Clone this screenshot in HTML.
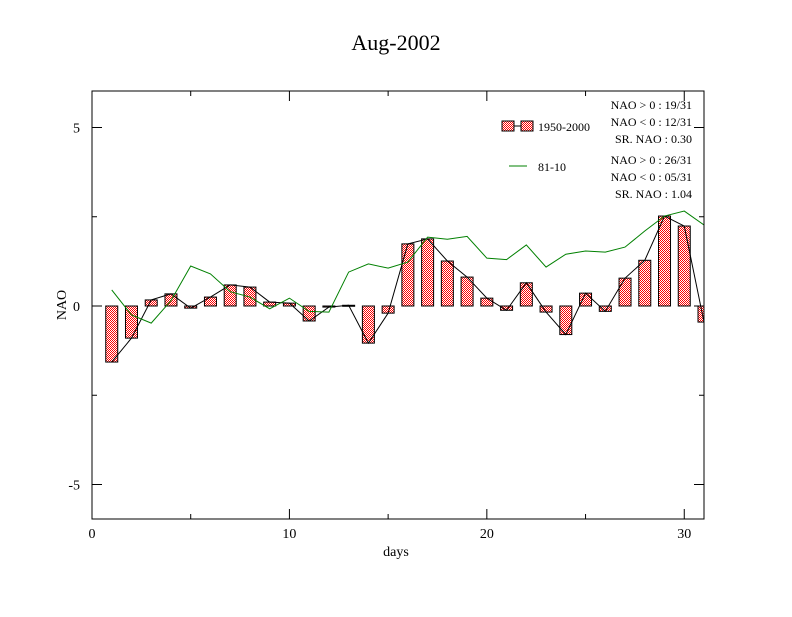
<!DOCTYPE html>
<html><head><meta charset="utf-8"><style>
body{margin:0;background:#fff}
svg text{font-family:"Liberation Serif",serif;fill:#000}
</style></head><body>
<svg id="chart" width="792" height="612" xmlns="http://www.w3.org/2000/svg">
<defs>
<pattern id="chk" width="2" height="2" patternUnits="userSpaceOnUse">
<rect width="2" height="2" fill="#fff"/><rect width="1" height="1" fill="#f00"/><rect x="1" y="1" width="1" height="1" fill="#f00"/>
</pattern>
</defs>
<text x="396" y="50" font-size="22" text-anchor="middle">Aug-2002</text>
<g id="marks"></g>
<rect x="92" y="91" width="612" height="428" fill="none" stroke="#000" stroke-width="1"/>
<g id="axes"></g>
<text x="396" y="556" font-size="14" text-anchor="middle">days</text>
<text x="66" y="305" font-size="14" text-anchor="middle" transform="rotate(-90 66 305)">NAO</text>
<g>
<rect x="502" y="121" width="12" height="10" fill="url(#chk)" stroke="#000"/>
<line x1="514" y1="126" x2="521" y2="126" stroke="#000"/>
<rect x="521" y="121" width="12" height="10" fill="url(#chk)" stroke="#000"/>
<text x="538" y="131" font-size="12">1950-2000</text>
<line x1="509" y1="166" x2="527" y2="166" stroke="#008000"/>
<text x="538" y="171" font-size="12">81-10</text>
<g font-size="12" text-anchor="end">
<text x="692" y="109">NAO &gt; 0 : 19/31</text>
<text x="692" y="126">NAO &lt; 0 : 12/31</text>
<text x="692" y="143">SR. NAO :  0.30</text>
<text x="692" y="164">NAO &gt; 0 : 26/31</text>
<text x="692" y="181">NAO &lt; 0 : 05/31</text>
<text x="692" y="192" dy="6">SR. NAO :  1.04</text>
</g>
</g>
</svg>
<script>
const days=[1,2,3,4,5,6,7,8,9,10,11,12,13,14,15,16,17,18,19,20,21,22,23,24,25,26,27,28,29,30,31];
const nao2002=[-1.57,-0.9,0.17,0.34,-0.06,0.25,0.59,0.53,0.11,0.08,-0.42,-0.03,0.02,-1.04,-0.2,1.74,1.88,1.26,0.81,0.22,-0.12,0.65,-0.17,-0.8,0.36,-0.15,0.78,1.28,2.52,2.24,-0.45];
const clim8110=[0.45,-0.25,-0.48,0.15,1.12,0.9,0.4,0.25,-0.08,0.22,-0.15,-0.17,0.95,1.18,1.06,1.23,1.93,1.87,1.95,1.34,1.3,1.71,1.09,1.45,1.54,1.51,1.65,2.1,2.52,2.66,2.27];
const xTicks=[0,10,20,30];
const yTicks=[-5,0,5];
const NS='http://www.w3.org/2000/svg';
const X=d=>92+(d/31)*612;
const Y=v=>306-v*35.7;
const marks=document.getElementById('marks'),axes=document.getElementById('axes');
function mk(tag,parent){const e=document.createElementNS(NS,tag);parent.appendChild(e);return e;}
days.forEach((d,i)=>{
 const v=nao2002[i];
 const r=mk('rect',marks);
 
 
 const y0=Math.min(Y(v),Y(0)),h=Math.max(1,Math.abs(Y(v)-Y(0)));
 r.setAttribute('x',X(d)-6);r.setAttribute('y',y0);r.setAttribute('width',12);r.setAttribute('height',h);
 r.setAttribute('fill','url(#chk)');r.setAttribute('stroke','#000');r.setAttribute('stroke-width','1');
 r.setAttribute('clip-path','');
});
const l1=mk('polyline',marks);


l1.setAttribute('points',days.map((d,i)=>X(d)+','+Y(nao2002[i])).join(' '));
l1.setAttribute('fill','none');l1.setAttribute('stroke','#000');
const l2=mk('polyline',marks);


l2.setAttribute('points',days.map((d,i)=>X(d)+','+Y(clim8110[i])).join(' '));
l2.setAttribute('fill','none');l2.setAttribute('stroke','#008000');
// clip marks to plot
marks.setAttribute('clip-path','url(#pc)');
const cp=mk('clipPath',document.querySelector('defs'));cp.setAttribute('id','pc');
const cr=mk('rect',cp);cr.setAttribute('x',92);cr.setAttribute('y',91);cr.setAttribute('width',612);cr.setAttribute('height',428);
function tick(x1,y1,x2,y2){const t=mk('line',axes);t.setAttribute('x1',x1);t.setAttribute('y1',y1);t.setAttribute('x2',x2);t.setAttribute('y2',y2);t.setAttribute('stroke','#000');

}
for(let d=5;d<31;d+=5){const L=d%10==0?10:5;tick(X(d),519,X(d),519-L);tick(X(d),91,X(d),91+L);}
for(let v=-5;v<=5;v+=2.5){const L=v%5==0?10:5;tick(92,Y(v),92+L,Y(v));tick(704,Y(v),704-L,Y(v));}
xTicks.forEach(d=>{const t=mk('text',axes);


t.setAttribute('x',X(d));t.setAttribute('y',538);t.setAttribute('font-size','14');t.setAttribute('text-anchor','middle');t.textContent=d;});
yTicks.forEach(v=>{const t=mk('text',axes);


t.setAttribute('x',80);t.setAttribute('y',Y(v)+5);t.setAttribute('font-size','14');t.setAttribute('text-anchor','end');t.textContent=v;});
</script>
</body></html>
